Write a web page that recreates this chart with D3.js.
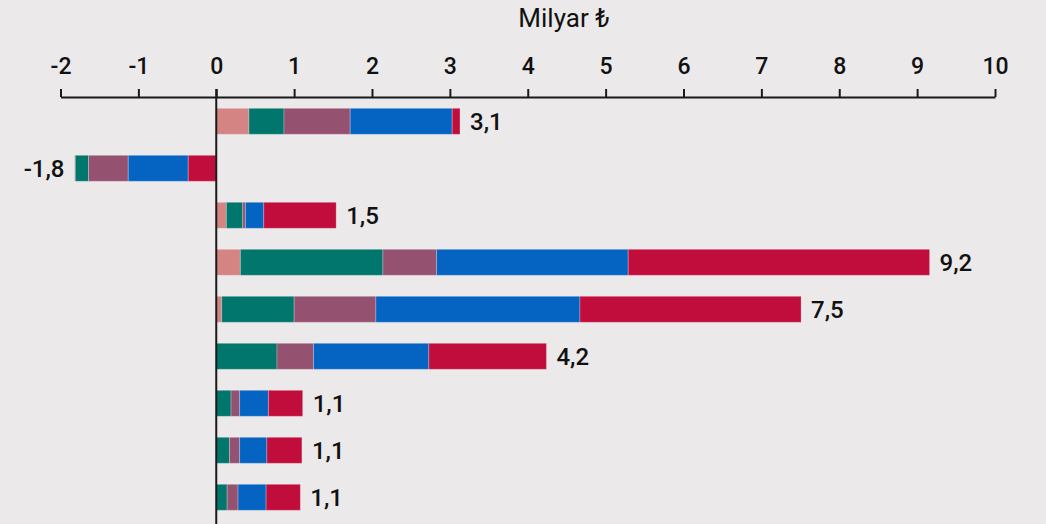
<!DOCTYPE html>
<meta charset="utf-8">
<style>
body { margin: 0; background: #ebe9ea; }
svg { display: block; font-family: Roboto, "Noto Sans", sans-serif; }
.axis path, .axis line { stroke: #1a1a1a; stroke-width: 2; }
.axis text { font-family: Roboto, "Noto Sans", sans-serif; font-size: 23px; font-weight: 500; fill: #111; }
</style>
<svg width="1046" height="524"></svg>
<script src="https://d3js.org/d3.v7.min.js"></script>
<script>

var rows = ["r1", "r2", "r3", "r4", "r5", "r6", "r7", "r8", "r9"];
var colors = ["#d48482", "#00766c", "#955170", "#0563c1", "#c10d3c"];

// values per series, one per row
var s1 = [0.42, -0.01, 0.13, 0.31, 0.07, 0, 0, 0, 0];
var s2 = [0.45, -0.17, 0.21, 1.83, 0.93, 0.78, 0.19, 0.17, 0.14];
var s3 = [0.85, -0.51, 0.035, 0.69, 1.05, 0.47, 0.11, 0.13, 0.14];
var s4 = [1.31, -0.77, 0.235, 2.46, 2.62, 1.48, 0.37, 0.35, 0.36];
var s5 = [0.10, -0.36, 0.93, 3.87, 2.84, 1.51, 0.44, 0.45, 0.44];
var totals = ["3,1", "-1,8", "1,5", "9,2", "7,5", "4,2", "1,1", "1,1", "1,1"];
var ticks = [-2, -1, 0, 1, 2, 3, 4, 5, 6, 7, 8, 9, 10];

var series = [s1, s2, s3, s4, s5];

var svg = d3.select("svg");

var x = d3.scaleLinear().domain([-2, 10]).range([60.5, 995]);
var y = d3.scaleBand().domain(rows).range([97.8, 520.8])
    .paddingInner(0.447).paddingOuter(0.2235);

// title
svg.append("text")
    .attr("x", 564)
    .attr("y", 27)
    .attr("text-anchor", "middle")
    .style("font-size", "26px")
    .style("fill", "#111")
    .text("Milyar ₺");

// axis on top
var axis = svg.append("g")
    .attr("class", "axis")
    .attr("transform", "translate(0,97)")
    .call(d3.axisTop(x).tickValues(ticks).tickSize(8).tickSizeOuter(0)
        .tickFormat(function(d) { return d < 0 ? "-" + Math.abs(d) : d; }));
axis.selectAll("text").attr("dy", 0).attr("y", -23);

// stack segments: positives from zero rightwards; negatives from total to zero
var segs = [];
rows.forEach(function(r, i) {
  var neg = d3.sum(series, function(s) { return Math.min(0, s[i]); });
  var pos = 0, n = neg;
  series.forEach(function(s, k) {
    var v = s[i];
    if (v > 0) { segs.push({row: r, k: k, x0: pos, x1: pos + v}); pos += v; }
    else if (v < 0) { segs.push({row: r, k: k, x0: n, x1: n - v}); n -= v; }
  });
});

svg.append("g").selectAll("rect")
  .data(segs)
  .enter().append("rect")
    .attr("x", function(d) { return x(d.x0); })
    .attr("y", function(d) { return y(d.row); })
    .attr("width", function(d) { return x(d.x1) - x(d.x0); })
    .attr("height", y.bandwidth())
    .attr("fill", function(d) { return colors[d.k]; })
    .attr("stroke", "#ffffff")
    .attr("stroke-opacity", 0.25)
    .attr("stroke-width", 1);

// zero line
svg.append("line")
    .attr("x1", x(0)).attr("x2", x(0))
    .attr("y1", 89).attr("y2", 524)
    .attr("stroke", "#1a1a1a")
    .attr("stroke-width", 2);

// total labels
svg.append("g").selectAll("text")
  .data(rows)
  .enter().append("text")
    .attr("x", function(r, i) {
      var pos = d3.sum(series, function(s) { return Math.max(0, s[i]); });
      var neg = d3.sum(series, function(s) { return Math.min(0, s[i]); });
      return pos > 0 ? x(pos) + 10 : x(neg) - 10;
    })
    .attr("y", function(r) { return y(r) + y.bandwidth() / 2; })
    .attr("dy", "0.36em")
    .attr("text-anchor", function(r, i) { return series[0][i] + series[4][i] < 0 ? "end" : "start"; })
    .style("font-size", "24px")
    .style("font-weight", 500)
    .style("fill", "#111")
    .text(function(r, i) { return totals[i]; });

</script>
